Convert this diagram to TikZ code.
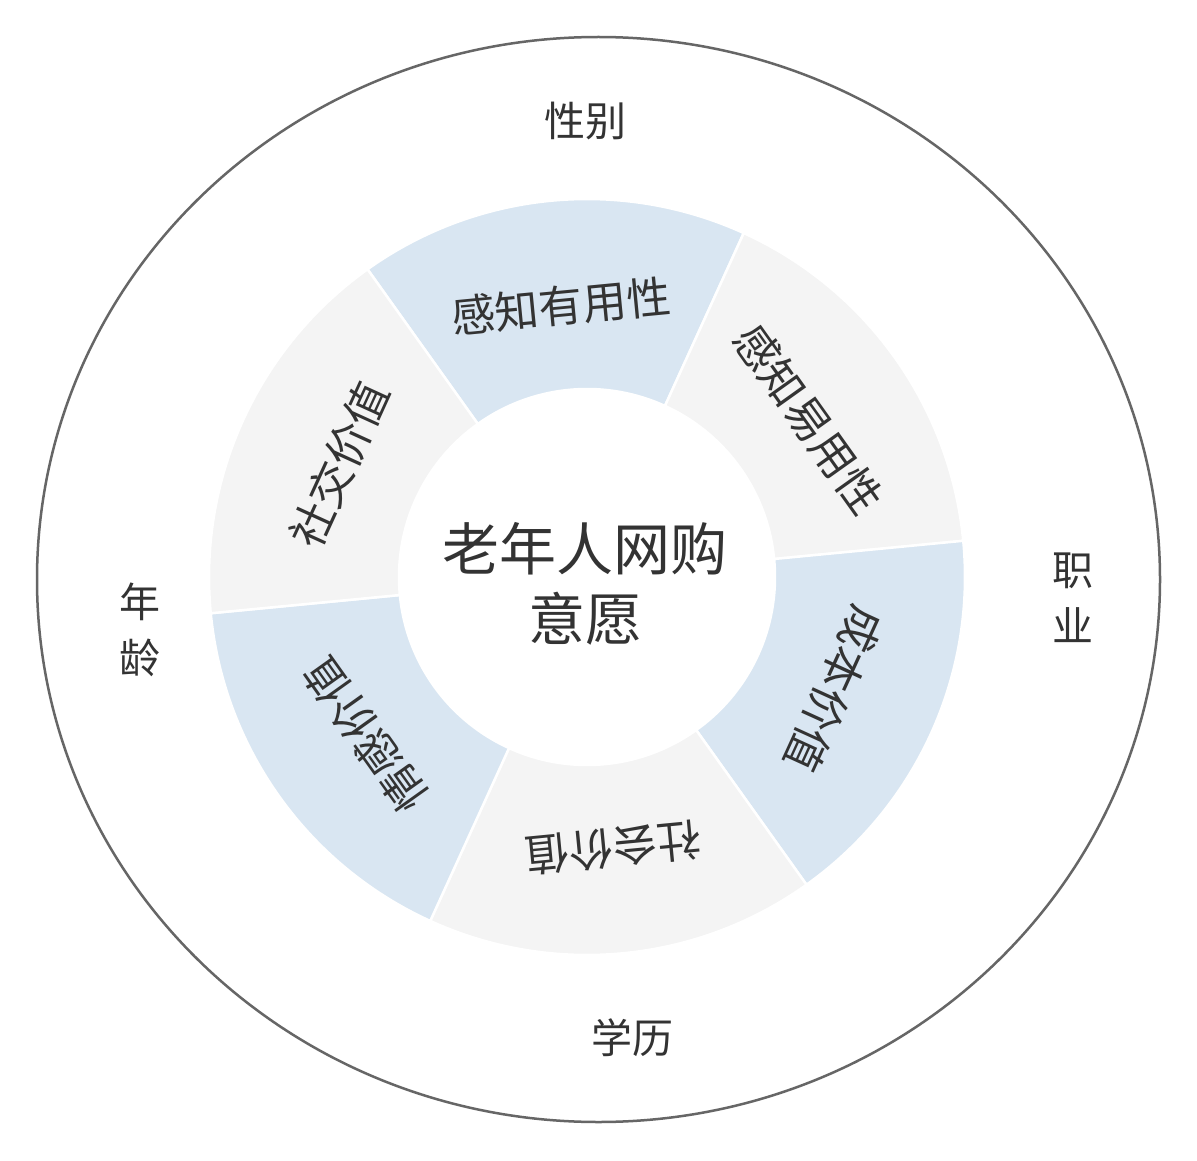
\documentclass[tikz,border=0pt]{standalone}
\usepackage{fontspec}
\newfontfamily\cjk{Noto Sans CJK SC}
\definecolor{segblue}{HTML}{D9E6F2}
\definecolor{seggrey}{HTML}{F4F4F4}
\definecolor{txt}{HTML}{333333}
\definecolor{rim}{HTML}{666666}
\begin{document}
\begin{tikzpicture}[x=1pt,y=1pt,
  seglabel/.style={font=\cjk\fontsize{44}{50}\selectfont, text=txt, inner sep=0pt},
  outerlabel/.style={font=\cjk\fontsize{41}{56}\selectfont, text=txt, inner sep=0pt, align=center},
  segment/.style={draw=white, line width=2.5pt, line join=round}]
\useasboundingbox (0,0) rectangle (1197,-1161);
\fill[white] (0,0) rectangle (1197,-1161);
% outer ellipse
\draw[rim, line width=2.5pt] (598.5,-579.5) ellipse [x radius=561.5, y radius=542.5];
\begin{scope}[shift={(587,-577)}]
  \foreach \a/\c in {65.5/segblue, 5.5/seggrey, -54.5/segblue, -114.5/seggrey, -174.5/segblue, 125.5/seggrey}{
    \path[segment, fill=\c] (\a:188) -- (\a:378)
      arc[start angle=\a, end angle=\a+60, radius=378]
      -- (\a+60:188)
      arc[start angle=\a+60, end angle=\a, radius=188] -- cycle;
  }
  \node[seglabel, rotate=5.5]    (pu) at (95.5:272)  {感知有用性};
  \node[seglabel, rotate=-54.5]  (pe) at (35.5:272)  {感知易用性};
  \node[seglabel, rotate=-114.5] (cv) at (-24.5:272) {成本价值};
  \node[seglabel, rotate=-174.5] (sv) at (-84.5:272) {社会价值};
  \node[seglabel, rotate=125.5]  (ev) at (-144.5:272) {情感价值};
  \node[seglabel, rotate=65.5]   (xv) at (155.5:272) {社交价值};
  \node[font=\cjk\fontsize{57}{70}\selectfont, text=txt, align=center, inner sep=0pt] (center) at (-2,-7) {老年人网购\\意愿};
\end{scope}
\node[outerlabel] (gender) at (585,-121) {性别};
\node[outerlabel] (edu) at (632,-1038) {学历};
\node[outerlabel] (job) at (1073,-598) {职\\业};
\node[outerlabel] (age) at (140,-630) {年\\龄};
\end{tikzpicture}
\end{document}
